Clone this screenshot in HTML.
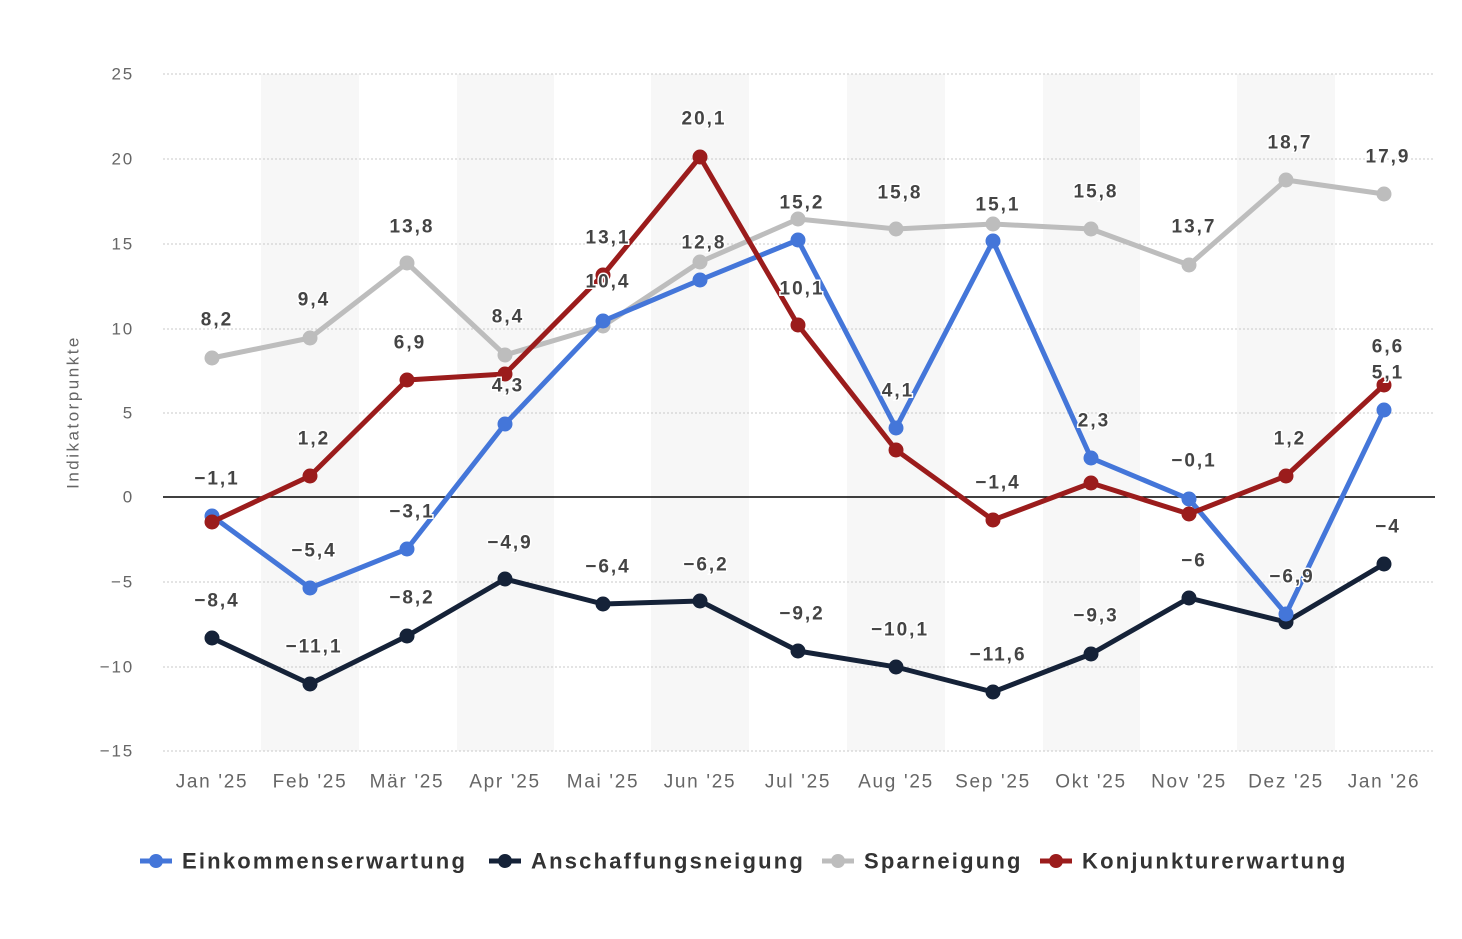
<!DOCTYPE html>
<html><head><meta charset="utf-8"><style>
html,body{margin:0;padding:0;background:#fff;}
svg text{font-family:"Liberation Sans",sans-serif;}
</style></head><body>
<svg width="1462" height="934" viewBox="0 0 1462 934" xmlns="http://www.w3.org/2000/svg">
<g fill="#f7f7f7">
<rect x="261" y="74" width="98" height="677"/>
<rect x="457" y="74" width="97" height="677"/>
<rect x="651" y="74" width="98" height="677"/>
<rect x="847" y="74" width="98" height="677"/>
<rect x="1043" y="74" width="97" height="677"/>
<rect x="1237" y="74" width="98" height="677"/>
</g>
<g stroke="#c8c8c8" stroke-width="1" stroke-dasharray="2,2">
<line x1="163" x2="1435" y1="74" y2="74"/><line x1="163" x2="1435" y1="159" y2="159"/>
<line x1="163" x2="1435" y1="244" y2="244"/><line x1="163" x2="1435" y1="329" y2="329"/>
<line x1="163" x2="1435" y1="413" y2="413"/><line x1="163" x2="1435" y1="582" y2="582"/>
<line x1="163" x2="1435" y1="667" y2="667"/><line x1="163" x2="1435" y1="751" y2="751"/>
</g>
<line x1="163" x2="1435" y1="497" y2="497" stroke="#000" stroke-width="1.5"/>
<g fill="#666" font-size="17" letter-spacing="1.8" text-anchor="end" dominant-baseline="central">
<text x="134" y="74">25</text><text x="134" y="159">20</text><text x="134" y="244">15</text>
<text x="134" y="329">10</text><text x="134" y="413">5</text><text x="134" y="497">0</text>
<text x="134" y="582">−5</text><text x="134" y="667">−10</text><text x="134" y="751">−15</text>
</g>
<text transform="translate(73,412) rotate(-90)" fill="#666" font-size="17" letter-spacing="2.5" text-anchor="middle" dominant-baseline="central">Indikatorpunkte</text>
<g fill="#666" font-size="19" letter-spacing="1.7" text-anchor="middle" dominant-baseline="central">
<text x="212" y="782">Jan '25</text><text x="310" y="782">Feb '25</text><text x="407" y="782">Mär '25</text>
<text x="505" y="782">Apr '25</text><text x="603" y="782">Mai '25</text><text x="700" y="782">Jun '25</text>
<text x="798" y="782">Jul '25</text><text x="896" y="782">Aug '25</text><text x="993" y="782">Sep '25</text>
<text x="1091" y="782">Okt '25</text><text x="1189" y="782">Nov '25</text><text x="1286" y="782">Dez '25</text>
<text x="1384" y="782">Jan '26</text>
</g>
<g stroke="#bdbdbd" fill="#bdbdbd">
<polyline fill="none" stroke-width="5" stroke-linejoin="round" points="212,358 310,338 407,263 505,355 603,326 700,262 798,219 896,229 993,224 1091,229 1189,265 1286,180 1384,194"/>
<circle cx="212" cy="358" r="7"/><circle cx="310" cy="338" r="7"/><circle cx="407" cy="263" r="7"/><circle cx="505" cy="355" r="7"/><circle cx="603" cy="326" r="7"/><circle cx="700" cy="262" r="7"/><circle cx="798" cy="219" r="7"/><circle cx="896" cy="229" r="7"/><circle cx="993" cy="224" r="7"/><circle cx="1091" cy="229" r="7"/><circle cx="1189" cy="265" r="7"/><circle cx="1286" cy="180" r="7"/><circle cx="1384" cy="194" r="7"/>
</g>
<g stroke="#152238" fill="#152238">
<polyline fill="none" stroke-width="5" stroke-linejoin="round" points="212,638 310,684 407,636 505,579 603,604 700,601 798,651 896,667 993,692 1091,654 1189,598 1286,622 1384,564"/>
<circle cx="212" cy="638" r="7"/><circle cx="310" cy="684" r="7"/><circle cx="407" cy="636" r="7"/><circle cx="505" cy="579" r="7"/><circle cx="603" cy="604" r="7"/><circle cx="700" cy="601" r="7"/><circle cx="798" cy="651" r="7"/><circle cx="896" cy="667" r="7"/><circle cx="993" cy="692" r="7"/><circle cx="1091" cy="654" r="7"/><circle cx="1189" cy="598" r="7"/><circle cx="1286" cy="622" r="7"/><circle cx="1384" cy="564" r="7"/>
</g>
<g stroke="#4476d9" fill="#4476d9">
<polyline fill="none" stroke-width="5" stroke-linejoin="round" points="212,516 310,588 407,549 505,424 603,321 700,280 798,240 896,428 993,241 1091,458 1189,499 1286,614 1384,410"/>
<circle cx="212" cy="516" r="7"/><circle cx="310" cy="588" r="7"/><circle cx="407" cy="549" r="7"/><circle cx="505" cy="424" r="7"/><circle cx="603" cy="321" r="7"/><circle cx="700" cy="280" r="7"/><circle cx="798" cy="240" r="7"/><circle cx="896" cy="428" r="7"/><circle cx="993" cy="241" r="7"/><circle cx="1091" cy="458" r="7"/><circle cx="1189" cy="499" r="7"/><circle cx="1286" cy="614" r="7"/><circle cx="1384" cy="410" r="7"/>
</g>
<g stroke="#9b1c1c" fill="#9b1c1c">
<polyline fill="none" stroke-width="5" stroke-linejoin="round" points="212,522 310,476 407,380 505,374 603,275 700,157 798,325 896,450 993,520 1091,483 1189,514 1286,476 1384,385"/>
<circle cx="212" cy="522" r="7"/><circle cx="310" cy="476" r="7"/><circle cx="407" cy="380" r="7"/><circle cx="505" cy="374" r="7"/><circle cx="603" cy="275" r="7"/><circle cx="700" cy="157" r="7"/><circle cx="798" cy="325" r="7"/><circle cx="896" cy="450" r="7"/><circle cx="993" cy="520" r="7"/><circle cx="1091" cy="483" r="7"/><circle cx="1189" cy="514" r="7"/><circle cx="1286" cy="476" r="7"/><circle cx="1384" cy="385" r="7"/>
</g>
<g fill="#444" font-size="19" font-weight="bold" letter-spacing="2" text-anchor="middle" dominant-baseline="central" stroke="#fff" stroke-width="3" paint-order="stroke">
<text x="217" y="320">8,2</text><text x="217" y="479">−1,1</text><text x="217" y="601">−8,4</text>
<text x="314" y="300">9,4</text><text x="314" y="439">1,2</text><text x="314" y="551">−5,4</text><text x="314" y="647">−11,1</text>
<text x="412" y="227">13,8</text><text x="410" y="343">6,9</text><text x="412" y="512">−3,1</text><text x="412" y="598">−8,2</text>
<text x="508" y="317">8,4</text><text x="508" y="386">4,3</text><text x="510" y="543">−4,9</text>
<text x="608" y="238">13,1</text><text x="608" y="282">10,4</text><text x="608" y="567">−6,4</text>
<text x="704" y="119">20,1</text><text x="704" y="243">12,8</text><text x="706" y="565">−6,2</text>
<text x="802" y="203">15,2</text><text x="802" y="289">10,1</text><text x="802" y="614">−9,2</text>
<text x="900" y="193">15,8</text><text x="898" y="391">4,1</text><text x="900" y="630">−10,1</text>
<text x="998" y="205">15,1</text><text x="998" y="483">−1,4</text><text x="998" y="655">−11,6</text>
<text x="1096" y="192">15,8</text><text x="1094" y="421">2,3</text><text x="1096" y="616">−9,3</text>
<text x="1194" y="227">13,7</text><text x="1194" y="461">−0,1</text><text x="1194" y="561">−6</text>
<text x="1290" y="143">18,7</text><text x="1290" y="439">1,2</text><text x="1292" y="577">−6,9</text>
<text x="1388" y="157">17,9</text><text x="1388" y="347">6,6</text><text x="1388" y="373">5,1</text><text x="1388" y="527">−4</text>
</g>
<g font-size="22" font-weight="bold" fill="#333" letter-spacing="2.2" dominant-baseline="central">
<line x1="140" x2="172" y1="861" y2="861" stroke="#4476d9" stroke-width="5"/><circle cx="156" cy="861" r="7" fill="#4476d9"/>
<text x="182" y="861">Einkommenserwartung</text>
<line x1="489" x2="521" y1="861" y2="861" stroke="#152238" stroke-width="5"/><circle cx="505" cy="861" r="7" fill="#152238"/>
<text x="531" y="861">Anschaffungsneigung</text>
<line x1="822" x2="854" y1="861" y2="861" stroke="#bdbdbd" stroke-width="5"/><circle cx="838" cy="861" r="7" fill="#bdbdbd"/>
<text x="864" y="861">Sparneigung</text>
<line x1="1040" x2="1072" y1="861" y2="861" stroke="#9b1c1c" stroke-width="5"/><circle cx="1056" cy="861" r="7" fill="#9b1c1c"/>
<text x="1082" y="861">Konjunkturerwartung</text>
</g>
</svg>
</body></html>
